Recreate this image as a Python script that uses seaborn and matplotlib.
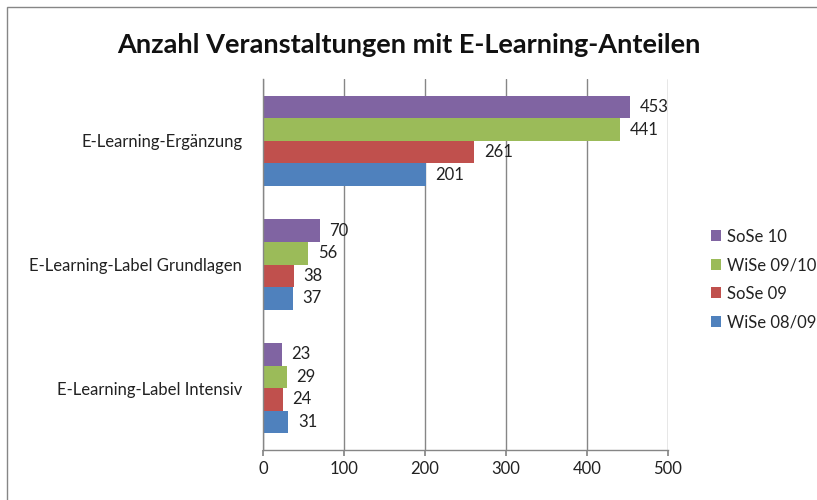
import matplotlib
matplotlib.use("Agg")
import matplotlib.pyplot as plt
import seaborn as sns
import pandas as pd
from matplotlib.patches import Rectangle

categories = ["E-Learning-Ergänzung", "E-Learning-Label Grundlagen", "E-Learning-Label Intensiv"]
series = ["SoSe 10", "WiSe 09/10", "SoSe 09", "WiSe 08/09"]
sose10 = [453, 70, 23]
wise0910 = [441, 56, 29]
sose09 = [261, 38, 24]
wise0809 = [201, 37, 31]
colors = ["#8064A2", "#9BBB59", "#C0504D", "#4F81BD"]
ticks = [0, 100, 200, 300, 400, 500]

rows = []
for s, vals in zip(series, [sose10, wise0910, sose09, wise0809]):
    for c, v in zip(categories, vals):
        rows.append({"Kategorie": c, "Semester": s, "Anzahl": v})
df = pd.DataFrame(rows)

sns.set_theme(style="white")
plt.rcParams["font.family"] = ["Lato", "DejaVu Sans"]

fig = plt.figure(figsize=(8.17, 5.0), dpi=100)
ax = fig.add_axes([0.322, 0.10, 0.4955, 0.742])

sns.barplot(data=df, y="Kategorie", x="Anzahl", hue="Semester", hue_order=series,
            order=categories, palette=colors, orient="h", width=0.73,
            saturation=1, linewidth=0, ax=ax, legend=True)

for cont in ax.containers:
    ax.bar_label(cont, padding=7, fontsize=12, color="#222222")

ax.set_xlim(0, 500)
ax.set_xticks(ticks)
ax.set_xlabel("")
ax.set_ylabel("")
ax.grid(axis="x", color="#868686", linewidth=1)
ax.set_axisbelow(True)
for side in ["top", "right"]:
    ax.spines[side].set_visible(False)
for side in ["left", "bottom"]:
    ax.spines[side].set_color("#868686")
    ax.spines[side].set_linewidth(1)
ax.tick_params(axis="x", bottom=True, direction="out", length=4, color="#868686",
               labelsize=12, labelcolor="#222222", pad=4)
ax.tick_params(axis="y", left=False, labelsize=12, labelcolor="#222222", pad=9)

leg = ax.legend(loc="center left", bbox_to_anchor=(1.07, 0.46), frameon=False,
                fontsize=12, handlelength=0.6, handleheight=0.6,
                handletextpad=0.35, labelspacing=0.75)
for t in leg.get_texts():
    t.set_color("#222222")

fig.text(0.5, 0.91, "Anzahl Veranstaltungen mit E-Learning-Anteilen",
         ha="center", va="center", fontsize=19.5, fontweight="bold", color="#111111")

fig.patches.append(Rectangle((0.009, -0.05), 1.1, 1.036, transform=fig.transFigure,
                             fill=False, edgecolor="#868686", linewidth=1))

fig.savefig("out.png", dpi=100)
